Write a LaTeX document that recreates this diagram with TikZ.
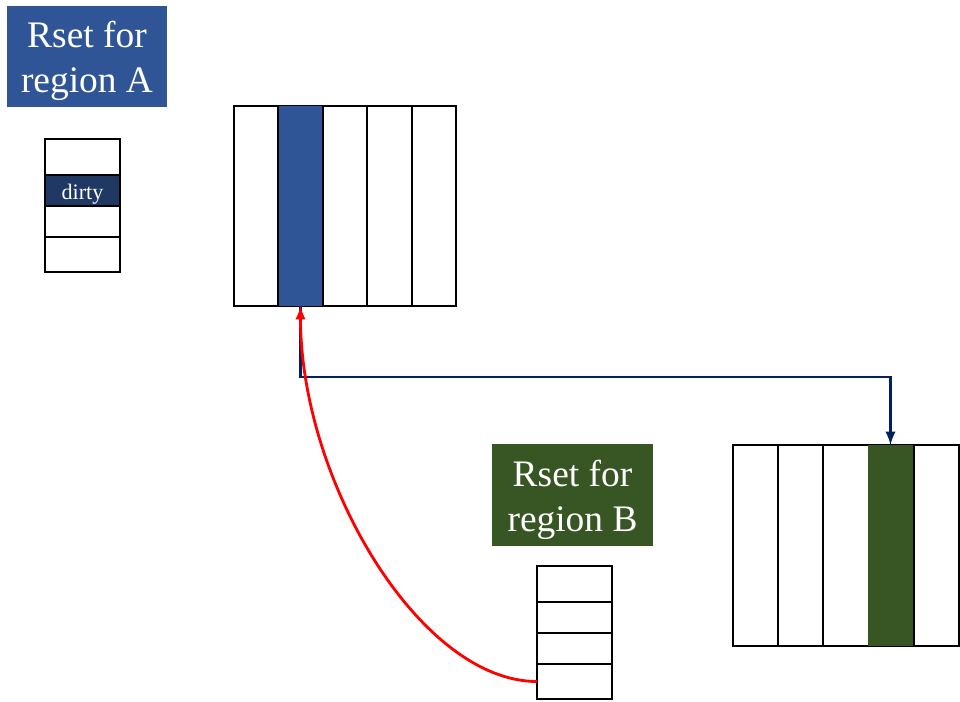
\documentclass[tikz,border=0pt]{standalone}
\usepackage{fontspec}
\setmainfont{Liberation Serif}
\usepackage{tikz}
\usetikzlibrary{arrows}
\usepackage{xcolor}
\definecolor{rsetblue}{HTML}{2F5597}
\definecolor{dirtyblue}{HTML}{1F3864}
\definecolor{linknavy}{HTML}{002060}
\definecolor{rsetgreen}{HTML}{375623}

\begin{document}
\begin{tikzpicture}[x=0.02cm,y=-0.02cm,
  cell/.style={draw,line width=1.1pt,inner sep=0pt,outer sep=0pt,anchor=north west},
  hot/.style={inner sep=0pt,outer sep=0pt,anchor=north west},
  rsettitle/.style={inner sep=0pt,text=white,align=center,yshift=-0.09cm,font=\fontsize{21.3}{25.5}\selectfont}]
\useasboundingbox (0,0) rectangle (960,701);
% titles of the two remembered sets
\node[fill=rsetblue,inner sep=0pt,minimum width=3.2cm,minimum height=2.02cm] (titleA) at (87,56.5) {};
\node[rsettitle] (titleAtext) at (titleA) {Rset for\\region A};
\node[fill=rsetgreen,inner sep=0pt,minimum width=3.22cm,minimum height=2.04cm] (titleB) at (572.5,495) {};
\node[rsettitle] (titleBtext) at (titleB) {Rset for\\region B};
% rset cards, edit here for the rows
\foreach \y/\h [count=\i] in {139/0.72,175/0.62,206/0.62,237/0.70}
\node[cell,minimum width=1.5cm,minimum height=\h cm] (rsA\i) at (45,\y) {};
\node[cell,fill=dirtyblue,text=white,font=\fontsize{12.6}{14}\selectfont,text height=0.34cm,text depth=0pt,minimum width=1.5cm,minimum height=0.62cm] (dirty) at (45,175) {dirty};
\foreach \y/\h [count=\i] in {566/0.72,602/0.62,633/0.62,664/0.70}
\node[cell,minimum width=1.5cm,minimum height=\h cm] (rsB\i) at (537,\y) {};
% region A and region B cards
\foreach \x in {0,1,2,3,4}
\node[cell,minimum width=0.888cm,minimum height=4cm] (regA\x) at ({234+44.4*\x},106) {};
\foreach \x in {0,1,2,3,4}
\node[cell,minimum width=0.904cm,minimum height=4.02cm] (regB\x) at ({733+45.2*\x},445) {};
\node[hot,fill=rsetblue,minimum width=0.86cm,minimum height=4cm] (hotA) at (279,106) {};
\node[hot,fill=rsetgreen,minimum width=0.9cm,minimum height=4.02cm] (hotB) at (868,445) {};
% references
\draw[linknavy,line width=1.6pt,-latex] (hotA.south) -- ++(0,71) -| (hotB.north);
\draw[red,line width=1.6pt,-latex] (rsB4.west) .. controls +(-117,0) and +(0,175) .. (hotA.south);
\end{tikzpicture}
\end{document}
